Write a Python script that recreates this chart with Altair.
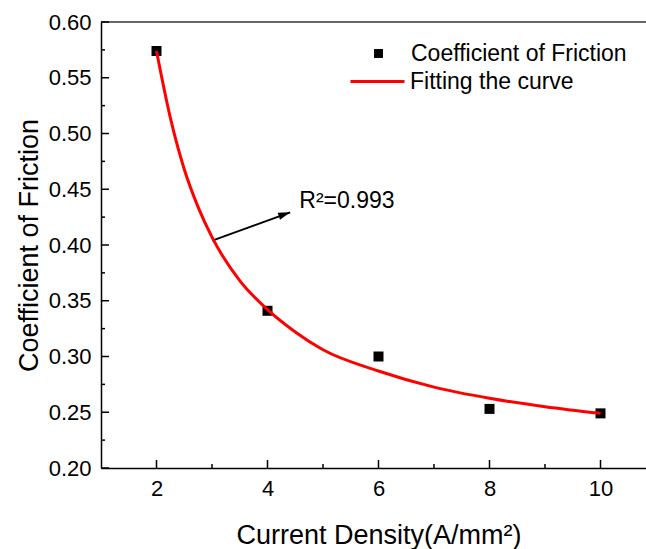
import altair as alt
import pandas as pd

FONT = "Liberation Sans"

# measured points
density = [2, 4, 6, 8, 10]
friction = [0.574, 0.341, 0.300, 0.253, 0.249]

# fitted curve
fit_x = [2.0, 2.25, 2.5, 2.75, 3.0, 3.5, 4.0, 4.5, 5.0, 6.0, 7.0, 8.0, 9.0, 10.0]
fit_y = [0.574, 0.514, 0.468, 0.434, 0.407, 0.368, 0.342, 0.322, 0.306, 0.287, 0.2725, 0.2625, 0.255, 0.249]

# tick values
y_major = [0.20, 0.25, 0.30, 0.35, 0.40, 0.45, 0.50, 0.55, 0.60]
y_minor = [0.225, 0.275, 0.325, 0.375, 0.425, 0.475, 0.525, 0.575]
x_major = [2, 4, 6, 8, 10]
x_minor = [3, 5, 7, 9]

# annotation
arrow_x = [3.004, 4.409]
arrow_y = [0.4039, 0.4293]
r2_label = "R²=0.993"
r2_x = 4.573
r2_y = 0.4335

W, H = 545, 446
xs = alt.Scale(domain=[1, 1 + W / 55.5], nice=False, zero=False)
ys = alt.Scale(domain=[0.2, 0.6], nice=False, zero=False)

pts = pd.DataFrame({"x": density, "y": friction, "pt": "Coefficient of Friction"})
fit = pd.DataFrame({"x": fit_x, "y": fit_y, "ln": "Fitting the curve"})

XAX = alt.Axis(
    values=x_major, ticks=False, grid=False, labelFontSize=22, labelFont=FONT,
    labelColor="black", labelPadding=10, domainColor="black", domainWidth=1.5,
    title="Current Density(A/mm²)", titleFont=FONT, titleFontSize=27,
    titleFontWeight="normal", titleColor="black", titleX=277.5, titleY=75,
    titleAlign="center", titleBaseline="alphabetic", labelFlush=False,
)
YAX = alt.Axis(
    values=y_major, format=".2f", ticks=False, grid=False, labelFontSize=22,
    labelFont=FONT, labelColor="black", labelPadding=10, domainColor="black",
    domainWidth=1.5, title="Coefficient of Friction", titleFont=FONT,
    titleFontSize=27, titleFontWeight="normal", titleColor="black",
    titleX=-64, titleY=223, titleAngle=-90, titleAlign="center",
    titleBaseline="alphabetic", labelFlush=False,
)


def X(f):
    return alt.X(f, scale=xs, axis=XAX)


def Y(f):
    return alt.Y(f, scale=ys, axis=YAX)


points = alt.Chart(pts).mark_point(filled=True, size=100, opacity=1, color="black").encode(
    x=X("x:Q"), y=Y("y:Q"),
    shape=alt.Shape("pt:N", scale=alt.Scale(range=["square"]), legend=alt.Legend(
        orient="none", legendX=266, legendY=20, title=None, padding=0,
        labelFontSize=23, labelFont=FONT, labelColor="black", labelOffset=21,
        labelLimit=0, symbolFillColor="black", symbolStrokeColor="black",
        symbolSize=80, symbolOpacity=1, symbolStrokeWidth=0)),
)

curve = alt.Chart(fit).mark_line(strokeWidth=3, interpolate="monotone").encode(
    x=X("x:Q"), y=Y("y:Q"),
    color=alt.Color("ln:N", scale=alt.Scale(range=["#ff0000"]), legend=alt.Legend(
        orient="none", legendX=248, legendY=31, title=None, padding=0,
        labelFontSize=23, labelFont=FONT, labelColor="black", labelOffset=4,
        labelLimit=0, symbolType="stroke", symbolSize=2916, symbolStrokeWidth=3)),
)

ymaj = pd.DataFrame({"v": y_major})
ymin = pd.DataFrame({"v": y_minor})
xmaj = pd.DataFrame({"v": x_major})
xmin = pd.DataFrame({"v": x_minor})

tick_style = dict(color="black", strokeWidth=1.5)
yt1 = alt.Chart(ymaj).mark_rule(**tick_style).encode(
    y=Y("v:Q"), x=alt.value(0), x2=alt.value(8))
yt2 = alt.Chart(ymin).mark_rule(**tick_style).encode(
    y=Y("v:Q"), x=alt.value(0), x2=alt.value(4))
xt1 = alt.Chart(xmaj).mark_rule(**tick_style).encode(
    x=X("v:Q"), y=alt.value(H), y2=alt.value(H - 8))
xt2 = alt.Chart(xmin).mark_rule(**tick_style).encode(
    x=X("v:Q"), y=alt.value(H), y2=alt.value(H - 4))

top = alt.Chart(pd.DataFrame({"v": [y_major[-1]]})).mark_rule(
    color="#333333", strokeWidth=1.5).encode(y=Y("v:Q"))

arr = pd.DataFrame({"x": [arrow_x[0]], "y": [arrow_y[0]], "x2": [arrow_x[1]], "y2": [arrow_y[1]]})
arrow_line = alt.Chart(arr).mark_rule(color="black", strokeWidth=2).encode(
    x=X("x:Q"), y=Y("y:Q"), x2="x2:Q", y2="y2:Q")
arrow_head = alt.Chart(arr).mark_point(
    shape="M0,0 L-2,-0.6 L-2,0.6 Z", filled=True, color="black", opacity=1,
    size=144, angle=341).encode(x=X("x2:Q"), y=Y("y2:Q"))

lab = pd.DataFrame({"x": [r2_x], "y": [r2_y], "t": [r2_label]})
r2 = alt.Chart(lab).mark_text(align="left", baseline="alphabetic", fontSize=23,
                              font=FONT, color="black").encode(
    x=X("x:Q"), y=Y("y:Q"), text="t:N")

chart = alt.layer(
    points, top, yt1, yt2, xt1, xt2, arrow_line, arrow_head, r2, curve
).resolve_scale(color="independent", shape="independent").properties(
    width=W, height=H,
    padding={"left": 101, "top": 22, "right": 0, "bottom": 549 - 22 - H},
    autosize="none", background="white",
).configure_view(stroke=None)

chart.save("out.html", embed_options={"renderer": "svg", "actions": False})
